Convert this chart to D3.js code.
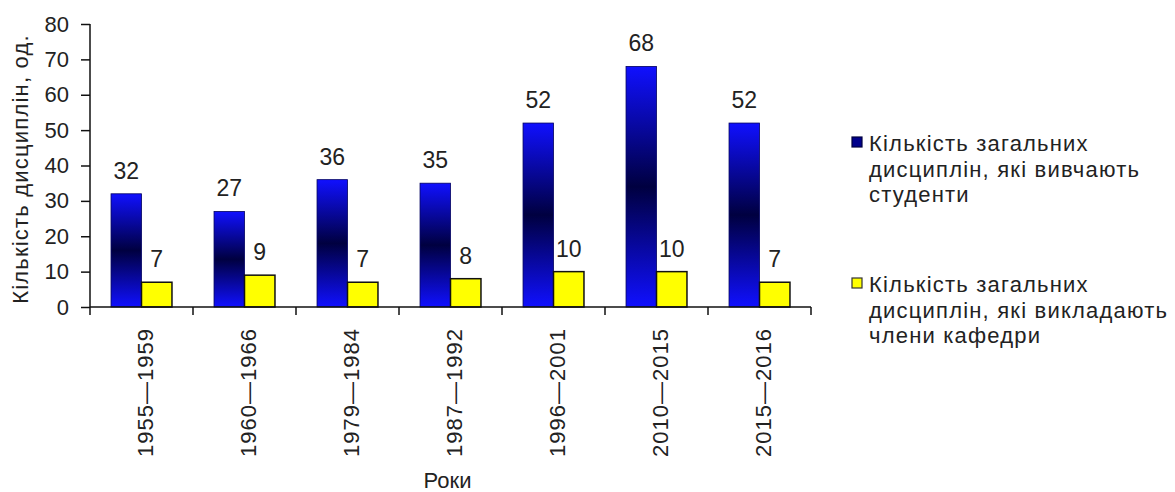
<!DOCTYPE html>
<html>
<head>
<meta charset="utf-8">
<script src="https://cdn.jsdelivr.net/npm/d3@7"></script>
<style>
  body { margin: 0; background: #fff; }
  text { font-family: "Liberation Sans", Arial, sans-serif; fill: #222; }
</style>
</head>
<body>
<div id="chart"></div>
<script>
const categories = ['1955—1959', '1960—1966', '1979—1984', '1987—1992', '1996—2001', '2010—2015', '2015—2016']
const studied = [32, 27, 36, 35, 52, 68, 52]
const taught = [7, 9, 7, 8, 10, 10, 7]
const seriesNames = [
  ['Кількість загальних', 'дисциплін, які вивчають', 'студенти'],
  ['Кількість загальних', 'дисциплін, які викладають', 'члени кафедри']
]
const yTicks = [0, 10, 20, 30, 40, 50, 60, 70, 80]

const width = 1175
const height = 492
const margin = { top: 24, left: 90, bottom: 185, right: 364 }
const innerW = width - margin.left - margin.right
const innerH = height - margin.top - margin.bottom

const svg = d3.select('#chart').append('svg')
  .attr('width', width)
  .attr('height', height)

const defs = svg.append('defs')
const grad = defs.append('linearGradient')
  .attr('id', 'blueGrad')
  .attr('x1', 0).attr('y1', 0).attr('x2', 0).attr('y2', 1)
grad.append('stop').attr('offset', '0%').attr('stop-color', '#1010ff')
grad.append('stop').attr('offset', '50%').attr('stop-color', '#000040')
grad.append('stop').attr('offset', '100%').attr('stop-color', '#1010ff')

const x = d3.scaleBand().domain(categories).range([0, innerW])
const x1 = d3.scaleBand().domain([0, 1]).range([0, x.bandwidth()]).paddingOuter(0.69)
const y = d3.scaleLinear().domain([0, 80]).range([innerH, 0])

const g = svg.append('g')
  .attr('transform', 'translate(' + margin.left + ',' + margin.top + ')')

const rows = categories.map((c, i) => ({ c, v: [studied[i], taught[i]] }))

const groups = g.selectAll('.grp').data(rows).enter().append('g')
  .attr('transform', d => 'translate(' + x(d.c) + ',0)')

groups.append('rect')
  .attr('x', x1(0))
  .attr('y', d => y(d.v[0]))
  .attr('width', x1.bandwidth())
  .attr('height', d => y(0) - y(d.v[0]))
  .attr('fill', 'url(#blueGrad)')
  .attr('stroke', '#000060')
  .attr('stroke-width', 0.8)

groups.append('rect')
  .attr('x', x1(1))
  .attr('y', d => y(d.v[1]))
  .attr('width', x1.bandwidth())
  .attr('height', d => y(0) - y(d.v[1]))
  .attr('fill', '#ffff00')
  .attr('stroke', '#111')
  .attr('stroke-width', 1.5)

groups.selectAll('.val').data(d => d.v).enter().append('text')
  .attr('x', (d, i) => x1(i) + x1.bandwidth() / 2)
  .attr('y', d => y(d) - 15)
  .attr('text-anchor', 'middle')
  .style('font-size', '23px')
  .text(d => d)

// y axis
const yAxis = d3.axisLeft(y).tickValues(yTicks).tickSize(9).tickPadding(12)
const ya = g.append('g').call(yAxis)
ya.selectAll('text').style('font-size', '22px').attr('fill', '#222')
ya.selectAll('line, path').attr('stroke', '#111').attr('stroke-width', 1.5)
ya.select('.domain').attr('d', 'M0,' + innerH + 'V0')

// x axis
const xa = g.append('g').attr('transform', 'translate(0,' + innerH + ')')
xa.append('line')
  .attr('x1', 0).attr('x2', innerW)
  .attr('stroke', '#111').attr('stroke-width', 1.5)
xa.selectAll('.tk').data(categories.concat([null])).enter().append('line')
  .attr('x1', d => d === null ? innerW : x(d))
  .attr('x2', d => d === null ? innerW : x(d))
  .attr('y1', 0).attr('y2', 8)
  .attr('stroke', '#111').attr('stroke-width', 1.5)
xa.selectAll('.lbl').data(categories).enter().append('text')
  .attr('transform', d => 'translate(' + (x(d) + x.bandwidth() / 2 + 11.5) + ',21) rotate(-90)')
  .attr('text-anchor', 'end')
  .style('font-size', '22px')
  .style('letter-spacing', '1px')
  .text(d => d)

svg.append('text')
  .attr('x', margin.left + innerW / 2 - 3)
  .attr('y', 488)
  .attr('text-anchor', 'middle')
  .style('font-size', '22px')
  .text('Роки')

svg.append('text')
  .attr('transform', 'translate(28,169) rotate(-90)')
  .attr('text-anchor', 'middle')
  .style('font-size', '22px')
  .style('letter-spacing', '1.2px')
  .text('Кількість дисциплін, од.')

// legend
const legendTop = [151, 292]
const legendFill = ['#00008b', '#ffff00']
const legendStroke = ['#000040', '#333']
seriesNames.forEach((lines, i) => {
  const lg = svg.append('g')
  lg.append('rect')
    .attr('x', 852).attr('y', legendTop[i] - 14)
    .attr('width', 10).attr('height', 10)
    .attr('fill', legendFill[i])
    .attr('stroke', legendStroke[i])
    .attr('stroke-width', 1.2)
  lg.selectAll('text').data(lines).enter().append('text')
    .attr('x', 869)
    .attr('y', (d, j) => legendTop[i] + j * 25.5)
    .style('font-size', '22px')
    .style('letter-spacing', '1.2px')
    .text(d => d)
})
</script>
</body>
</html>
